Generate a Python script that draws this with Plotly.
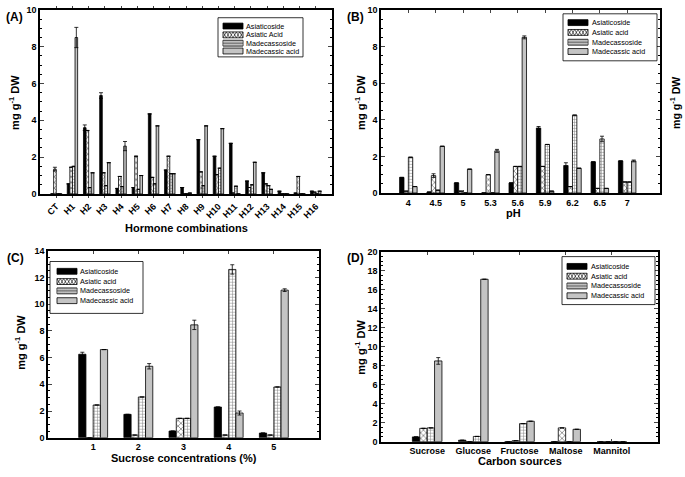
import plotly.graph_objects as go

# ---------------- data ----------------
series_names_A = ["Asiaticoside", "Asiatic Acid", "Madecassoside", "Madecassic acid"]
series_names = ["Asiaticoside", "Asiatic acid", "Madecassoside", "Madecassic acid"]

hormones = ["CT", "H1", "H2", "H3", "H4", "H5", "H6", "H7", "H8", "H9", "H10",
            "H11", "H12", "H13", "H14", "H15", "H16"]
A_asiaticoside = [0, 0.55, 3.6, 5.35, 0.3, 0.35, 4.35, 1.3, 0.35, 2.95, 2.05, 2.75, 0.7, 1.15, 0.15, 0.05, 0.15]
A_asiatic_acid = [1.35, 1.45, 3.45, 1.15, 0.95, 2.05, 0.9, 2.05, 0, 1.2, 1.05, 0.05, 0.35, 0.55, 0, 0.95, 0.1]
A_madecassoside = [0, 1.5, 0.35, 0.45, 0.4, 0.25, 0.55, 1.1, 0, 0.45, 1.4, 0.42, 0.5, 0.45, 0, 0, 0]
A_madecassic = [0, 8.5, 1.15, 1.7, 2.6, 1.0, 3.7, 1.1, 0.05, 3.7, 3.55, 0, 1.72, 0.25, 0, 0, 0.15]
A_err = [[0, 0, 0.15, 0.15, 0, 0, 0, 0, 0, 0, 0, 0, 0, 0, 0, 0, 0],
         [0.1, 0, 0, 0, 0, 0, 0, 0, 0, 0, 0, 0, 0, 0, 0, 0, 0],
         [0] * 17,
         [0, 0.55, 0, 0, 0.25, 0, 0, 0, 0, 0, 0, 0, 0, 0, 0, 0, 0]]

ph_levels = ["4", "4.5", "5", "5.3", "5.6", "5.9", "6.2", "6.5", "7"]
B_asiaticoside = [0.85, 0.05, 0.55, 0, 0.55, 3.55, 1.5, 1.7, 1.75]
B_asiatic_acid = [0.1, 0.95, 0.1, 1.0, 1.45, 1.45, 0.35, 0.25, 0.6]
B_madecassoside = [1.95, 0.15, 0, 0, 1.45, 2.65, 4.25, 2.95, 0.6]
B_madecassic = [0.35, 2.55, 1.3, 2.3, 8.5, 0.1, 1.35, 0.25, 1.75]
B_err = [[0, 0, 0, 0, 0, 0.08, 0.15, 0, 0],
         [0, 0.1, 0, 0, 0, 0, 0, 0, 0],
         [0, 0, 0, 0, 0, 0, 0, 0.15, 0],
         [0, 0, 0, 0.08, 0.08, 0, 0, 0, 0.05]]

sucrose_conc = [1, 2, 3, 4, 5]
C_asiaticoside = [6.25, 1.75, 0.5, 2.3, 0.35]
C_asiatic_acid = [0, 0.2, 1.45, 0.2, 0.2]
C_madecassoside = [2.45, 3.05, 1.45, 12.6, 3.8]
C_madecassic = [6.6, 5.35, 8.45, 1.85, 11.05]
C_err = [[0.15, 0, 0, 0, 0],
         [0, 0, 0, 0, 0],
         [0, 0, 0, 0.35, 0],
         [0, 0.2, 0.35, 0.15, 0.1]]

carbon_sources = ["Sucrose", "Glucose", "Fructose", "Maltose", "Mannitol"]
D_asiaticoside = [0.5, 0.15, 0, 0, 0]
D_asiatic_acid = [1.4, 0, 0.1, 1.45, 0]
D_madecassoside = [1.45, 0.55, 1.9, 0, 0]
D_madecassic = [8.5, 17.1, 2.15, 1.3, 0]
D_err = [[0] * 5, [0] * 5, [0] * 5, [0.35, 0, 0, 0, 0]]

# ---------------- styling ----------------
W, H = 685, 477
FONT = "Liberation Sans, Arial, sans-serif"
GRAY = "#c4c4c4"

def px_x(p):
    return p / W

def px_y(p):
    return 1 - p / H

styles = [
    dict(color="black", pattern=None),
    dict(color="white", pattern=dict(shape="x", fgcolor="black", bgcolor="white", size=4, solidity=0.35)),
    dict(color="white", pattern=dict(shape="+", fgcolor="black", bgcolor="white", size=3, solidity=0.3)),
    dict(color=GRAY, pattern=None),
]

fig = go.Figure()

panels = [
    ("x", "y", hormones, [A_asiaticoside, A_asiatic_acid, A_madecassoside, A_madecassic], A_err, series_names_A),
    ("x2", "y2", ph_levels, [B_asiaticoside, B_asiatic_acid, B_madecassoside, B_madecassic], B_err, series_names),
    ("x3", "y3", sucrose_conc, [C_asiaticoside, C_asiatic_acid, C_madecassoside, C_madecassic], C_err, series_names),
    ("x4", "y4", carbon_sources, [D_asiaticoside, D_asiatic_acid, D_madecassoside, D_madecassic], D_err, series_names),
]

for xa, ya, cats, vals, errs, names in panels:
    for i in range(4):
        st = styles[i]
        marker = dict(color=st["color"], line=dict(color="black", width=0.8))
        if st["pattern"]:
            marker["pattern"] = st["pattern"]
        fig.add_trace(go.Bar(
            x=cats, y=vals[i], name=names[i], xaxis=xa, yaxis=ya, showlegend=False,
            marker=marker, offsetgroup=str(i),
            error_y=dict(type="data", array=errs[i], visible=True, color="black",
                         thickness=0.8, width=2),
        ))

axis_common = dict(showline=True, linecolor="black", linewidth=1.6, mirror="ticks",
                   showgrid=False, zeroline=False,
                   tickfont=dict(family=FONT, size=9, color="black", weight="bold"))
minor = dict(dtick=0.5, ticks="inside", ticklen=2, tickcolor="black")

dom = {
    "A": ([px_x(40), px_x(332)], [px_y(193), px_y(5)]),
    "B": ([px_x(381), px_x(660)], [px_y(192), px_y(5)]),
    "C": ([px_x(48), px_x(319)], [px_y(442), px_y(251)]),
    "D": ([px_x(381), px_x(658)], [px_y(446), px_y(252)]),
}

fig.update_layout(
    width=W, height=H, margin=dict(l=0, r=0, t=0, b=0),
    paper_bgcolor="white", plot_bgcolor="white",
    font=dict(family=FONT, color="black"),
    barmode="group", bargap=0.36, bargroupgap=0,
    showlegend=False,
    xaxis=dict(domain=dom["A"][0], anchor="y", type="category", range=[-1, 17],
               tickangle=-45, ticks="outside", ticklen=2, **axis_common),
    yaxis=dict(domain=dom["A"][1], anchor="x", range=[0, 10], dtick=2, ticks="inside", ticklen=4,
               minor=minor, **axis_common),
    xaxis2=dict(domain=dom["B"][0], anchor="y2", type="category", range=[-1, 9.2],
                ticks="inside", ticklen=3, **axis_common),
    yaxis2=dict(domain=dom["B"][1], anchor="x2", range=[0, 10], dtick=2, ticks="inside", ticklen=4,
                minor=minor, **axis_common),
    xaxis3=dict(domain=dom["C"][0], anchor="y3", range=[0, 6], tickvals=sucrose_conc,
                ticks="inside", ticklen=3, **axis_common),
    yaxis3=dict(domain=dom["C"][1], anchor="x3", range=[0, 14], dtick=2, ticks="inside", ticklen=4,
                minor=minor, **axis_common),
    xaxis4=dict(domain=dom["D"][0], anchor="y4", type="category", range=[-1, 5],
                ticks="inside", ticklen=3, **axis_common),
    yaxis4=dict(domain=dom["D"][1], anchor="x4", range=[0, 20], dtick=2, ticks="inside", ticklen=4,
                minor=minor, **axis_common),
)

# ---------------- compact legends (box, swatches, labels) ----------------
shapes = []
ann = []

def P(x, y):
    return f"{px_x(x):.5f},{px_y(y):.5f}"

def rect(x0, y0, x1, y1, fill, lw=0.8):
    shapes.append(dict(type="rect", xref="paper", yref="paper",
                       x0=px_x(x0), x1=px_x(x1), y0=px_y(y1), y1=px_y(y0),
                       fillcolor=fill, line=dict(color="black", width=lw), layer="above"))

def path(d, lw=0.6):
    shapes.append(dict(type="path", xref="paper", yref="paper", path=d,
                       line=dict(color="black", width=lw), layer="above"))

def swatch(kind, x0, yc, w=20, h=6):
    y0, y1 = yc - h / 2, yc + h / 2
    if kind == 0:
        rect(x0, y0, x0 + w, y1, "black")
    elif kind == 3:
        rect(x0, y0, x0 + w, y1, GRAY)
    elif kind == 1:
        rect(x0, y0, x0 + w, y1, "white")
        n = int(w // 3)
        for par in (0, 1):
            pts = []
            for i in range(n + 1):
                yy = y0 if (i + par) % 2 == 0 else y1
                pts.append(P(x0 + i * w / n, yy))
            path("M " + " L ".join(pts), 0.6)
    elif kind == 2:
        rect(x0, y0, x0 + w, y1, "white")
        segs = []
        x = x0 + 2
        while x < x0 + w - 0.5:
            segs.append("M " + P(x, y0) + " L " + P(x, y1))
            x += 2
        segs.append("M " + P(x0, yc) + " L " + P(x0 + w, yc))
        path(" ".join(segs), 0.5)

def legend(box, sw_x, text_x, rows, names):
    x0, y0, x1, y1 = box
    rect(x0, y0, x1, y1, "white", 0.8)
    for k, (yc, nm) in enumerate(zip(rows, names)):
        swatch(k, sw_x, yc)
        ann.append(dict(text=nm, x=px_x(text_x), y=px_y(yc), xref="paper", yref="paper",
                        showarrow=False, xanchor="left", yanchor="middle",
                        font=dict(family=FONT, size=7.2, color="black")))

legend((218, 13, 303, 53), 223, 244, [21.5, 30.5, 39, 47], series_names_A)
legend((563, 9, 657, 57), 568, 590, [18, 28, 38, 47.5], series_names)
legend((50, 262, 143, 315), 57, 78, [272, 282.5, 292, 302], series_names)
legend((562, 257, 655, 306), 567, 589, [267, 277, 287, 297], series_names)

# ---------------- titles ----------------
ytitle = "mg g<sup>-1</sup> DW"

def add_text(text, x, y, size, angle=0):
    ann.append(dict(text=text, x=px_x(x), y=px_y(y), xref="paper", yref="paper",
                    showarrow=False, textangle=angle,
                    font=dict(family=FONT, size=size, color="black", weight="bold"),
                    xanchor="center", yanchor="middle"))

add_text("(A)", 14, 12, 12)
add_text("(B)", 355, 12, 12)
add_text("(C)", 16, 258, 12)
add_text("(D)", 355, 258, 12)
add_text(ytitle, 14, 100, 11, -90)
add_text(ytitle, 360, 100, 11, -90)
add_text(ytitle, 675, 100, 10.5, -90)
add_text(ytitle, 20, 345, 11, -90)
add_text(ytitle, 360, 350, 11, -90)
add_text("Hormone combinations", 186, 228, 11)
add_text("pH", 513, 212, 11)
add_text("Sucrose concentrations (%)", 184, 463, 11)
add_text("Carbon sources", 520, 466, 11)

fig.update_layout(shapes=shapes, annotations=ann)

fig.write_html("out.html", config={"displayModeBar": False},
               post_script="document.body.style.margin='0px';document.body.style.overflow='hidden';")
